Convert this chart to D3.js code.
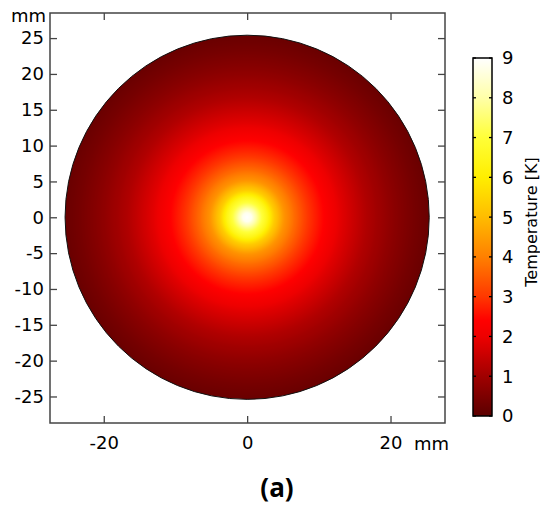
<!DOCTYPE html>
<html>
<head>
<meta charset="utf-8">
<script src="https://cdn.jsdelivr.net/npm/d3@7"></script>
<style>
  html, body { margin: 0; padding: 0; background: #fff; }
  svg { display: block; }
  text { font-family: "DejaVu Sans", sans-serif; fill: #000; }
</style>
</head>
<body>
<svg id="chart" width="540" height="508"></svg>
<script>
// Radial temperature profile of the disc (radius in mm, temperature rise in K)
const profileRadius = [0, 0.6, 1.4, 2.0, 2.8, 3.8, 5.2, 6.6, 8.4, 10.7, 13.1, 16.7, 20.5, 23.3, 25.4];
const profileTemp   = [9.0, 8.8, 7.8, 7.1, 6.4, 5.3, 4.3, 3.7, 3.0, 2.4, 1.85, 1.2, 0.7, 0.4, 0.22];
const discRadius = 25.4;

// Colour map stops (temperature in K -> colour)
const cmapValues = [0, 1, 2, 2.4, 3, 4, 5, 6, 7, 8, 9];
const cmapColors = ["#5a0000", "#a00000", "#ee0000", "#ff0000", "#ff3800", "#ff8000",
                    "#ffbc00", "#ffee00", "#ffff38", "#ffffa8", "#ffffff"];

// Axis ticks
const xTicks = [-20, 0, 20];
const yTicks = [25, 20, 15, 10, 5, 0, -5, -10, -15, -20, -25];
const cbTicks = [0, 1, 2, 3, 4, 5, 6, 7, 8, 9];

const svg = d3.select("#chart");

const x = d3.scaleLinear().domain([-27.5, 27.6]).range([50, 445]);
const y = d3.scaleLinear().domain([-28.7, 28.5]).range([423, 13]);

const tempAt = d3.scaleLinear().domain(profileRadius).range(profileTemp).clamp(true);
const color = d3.scaleLinear().domain(cmapValues).range(cmapColors)
  .interpolate(d3.interpolateRgb).clamp(true);

const plainNumber = d => String(d);

const defs = svg.append("defs");

// Radial gradient of the temperature field
const rg = defs.append("radialGradient")
  .attr("id", "tempField")
  .attr("gradientUnits", "userSpaceOnUse")
  .attr("cx", x(0)).attr("cy", y(0))
  .attr("r", x(discRadius) - x(0));
rg.selectAll("stop")
  .data(d3.range(0, 1.0001, 0.004))
  .join("stop")
  .attr("offset", d => d)
  .attr("stop-color", d => color(tempAt(d * discRadius)));

// Disc
svg.append("circle")
  .attr("cx", x(0)).attr("cy", y(0))
  .attr("r", x(discRadius) - x(0))
  .attr("fill", "url(#tempField)")
  .attr("stroke", "#111")
  .attr("stroke-width", 1);

// Axes with inward ticks on all four sides
const axisColor = "#444";
function styleAxis(g) {
  g.select(".domain").remove();
  g.selectAll(".tick line").attr("stroke", axisColor).attr("stroke-width", 1.3);
  g.selectAll(".tick text").style("font-size", "18px").attr("fill", "#000");
}

svg.append("g")
  .attr("transform", `translate(${x.range()[0]},0)`)
  .call(d3.axisLeft(y).tickValues(yTicks).tickFormat(plainNumber)
    .tickSizeInner(-7).tickSizeOuter(0).tickPadding(6))
  .call(styleAxis);

svg.append("g")
  .attr("transform", `translate(${x.range()[1]},0)`)
  .call(d3.axisRight(y).tickValues(yTicks).tickSizeInner(-7).tickSizeOuter(0).tickFormat(""))
  .call(styleAxis);

svg.append("g")
  .attr("transform", `translate(0,${y.range()[0]})`)
  .call(d3.axisBottom(x).tickValues(xTicks).tickFormat(plainNumber)
    .tickSizeInner(-7).tickSizeOuter(0).tickPadding(13))
  .call(styleAxis);

svg.append("g")
  .attr("transform", `translate(0,${y.range()[1]})`)
  .call(d3.axisTop(x).tickValues(xTicks).tickSizeInner(-7).tickSizeOuter(0).tickFormat(""))
  .call(styleAxis);

// Plot frame
svg.append("rect")
  .attr("x", x.range()[0]).attr("y", y.range()[1])
  .attr("width", x.range()[1] - x.range()[0])
  .attr("height", y.range()[0] - y.range()[1])
  .attr("fill", "none")
  .attr("stroke", axisColor)
  .attr("stroke-width", 1.5);

// Unit labels
svg.append("text").attr("x", 46).attr("y", 22).attr("text-anchor", "end")
  .style("font-size", "18px").text("mm");
svg.append("text").attr("x", 414).attr("y", 450)
  .style("font-size", "18px").text("mm");

// Colour bar
const cb = d3.scaleLinear().domain([0, 9]).range([416, 58]);
const cbX = 473, cbW = 19;
const lg = defs.append("linearGradient")
  .attr("id", "cbGrad")
  .attr("gradientUnits", "userSpaceOnUse")
  .attr("x1", 0).attr("x2", 0)
  .attr("y1", cb(0)).attr("y2", cb(9));
lg.selectAll("stop")
  .data(d3.range(0, 9.0001, 0.05))
  .join("stop")
  .attr("offset", d => d / 9)
  .attr("stop-color", d => color(d));

svg.append("rect")
  .attr("x", cbX).attr("y", cb(9))
  .attr("width", cbW).attr("height", cb(0) - cb(9))
  .attr("fill", "url(#cbGrad)");

const cbTickG = svg.append("g");
cbTickG.selectAll("line.l").data(cbTicks).join("line").attr("class", "l")
  .attr("x1", cbX).attr("x2", cbX + 3)
  .attr("y1", d => cb(d)).attr("y2", d => cb(d))
  .attr("stroke", "#000").attr("stroke-width", 1.3);
cbTickG.selectAll("line.r").data(cbTicks).join("line").attr("class", "r")
  .attr("x1", cbX + cbW - 3).attr("x2", cbX + cbW)
  .attr("y1", d => cb(d)).attr("y2", d => cb(d))
  .attr("stroke", "#000").attr("stroke-width", 1.3);

svg.append("rect")
  .attr("x", cbX).attr("y", cb(9))
  .attr("width", cbW).attr("height", cb(0) - cb(9))
  .attr("fill", "none").attr("stroke", "#000").attr("stroke-width", 1.5);

svg.append("g").selectAll("text").data(cbTicks).join("text")
  .attr("x", 502).attr("y", d => cb(d))
  .attr("dy", "0.36em")
  .style("font-size", "18px")
  .text(d => d);

svg.append("text")
  .attr("transform", "translate(537,222) rotate(-90)")
  .attr("text-anchor", "middle")
  .style("font-size", "16px")
  .text("Temperature [K]");

// Panel label
svg.append("text")
  .attr("x", 277).attr("y", 497)
  .attr("text-anchor", "middle")
  .style("font-family", "'Open Sans', sans-serif")
  .style("font-weight", "bold")
  .style("font-size", "26px")
  .text("(a)");
</script>
</body>
</html>
